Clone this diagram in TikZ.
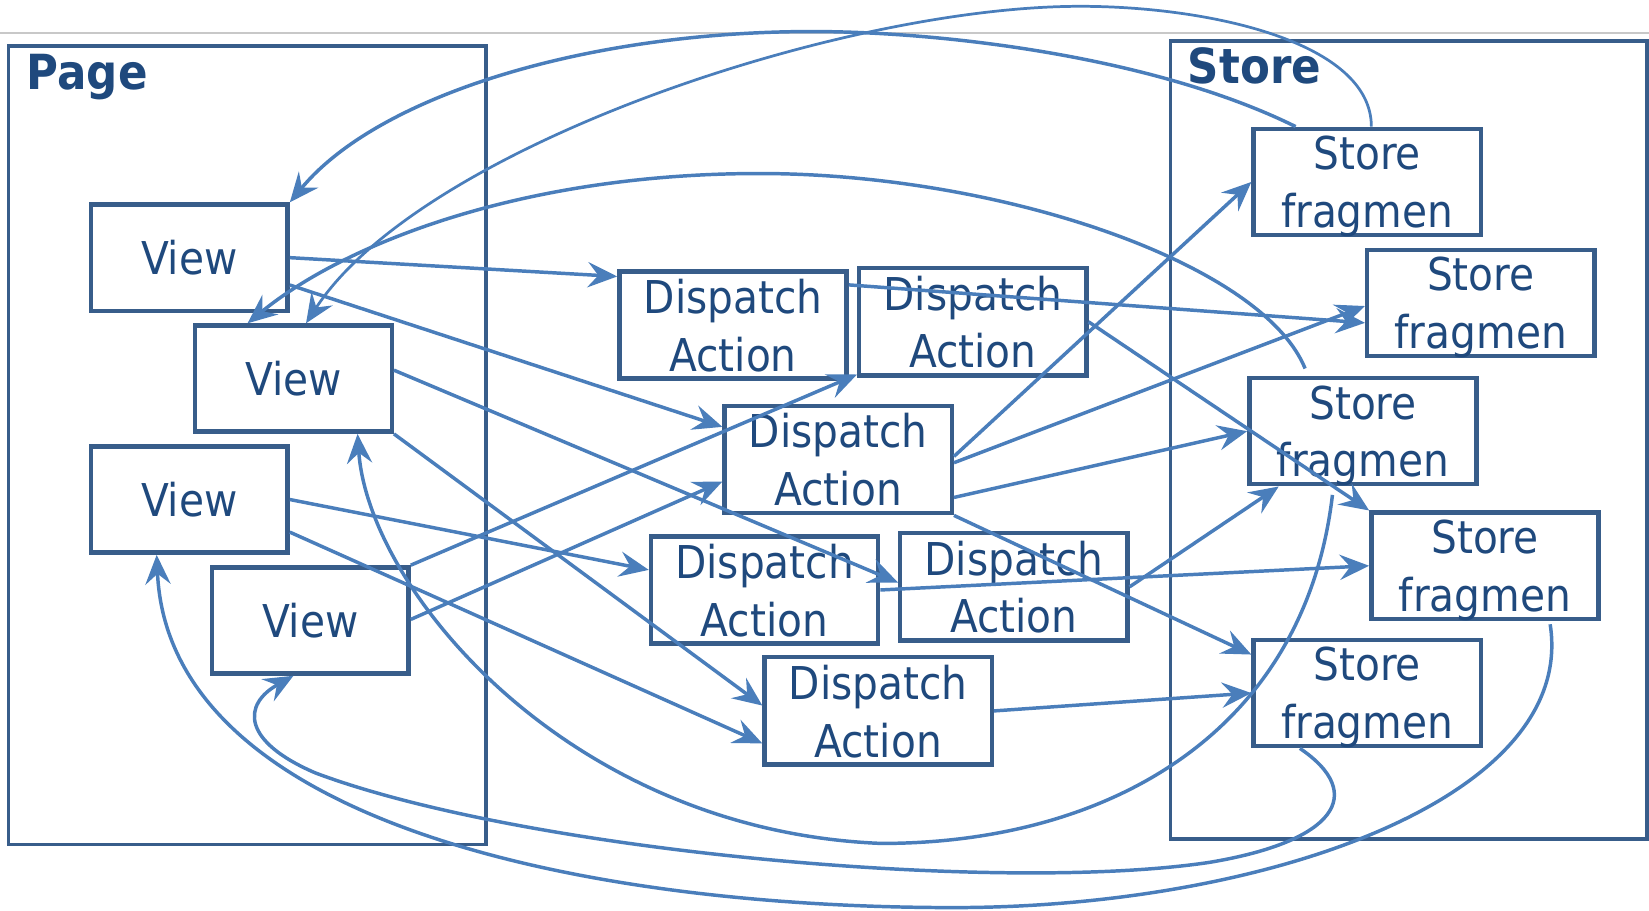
\documentclass[tikz,border=0pt]{standalone}
\usepackage{fontspec}
\setmainfont{DejaVu Sans Condensed}
\usepackage{tikz}
\usetikzlibrary{arrows.meta}
\definecolor{ppnavy}{HTML}{1F497D}
\definecolor{ppframe}{HTML}{385D8A}
\definecolor{ppline}{HTML}{4A7EBB}
\definecolor{ppgray}{HTML}{C8C8C8}

\begin{document}
\begin{tikzpicture}[
  x=0.5pt, y=-0.5pt,
  box/.style={draw=ppframe, fill=white, line width=2.1pt, inner sep=0pt, align=center,
    text=ppnavy, text depth=0pt, font=\fontsize{21.5}{27.5}\selectfont},
  view/.style={box, minimum width=93.5pt, minimum height=50.5pt},
  action/.style={box, minimum width=108pt, minimum height=51pt},
  fragment/.style={box, minimum width=108pt, minimum height=50.5pt},
  frame/.style={draw=ppframe, line width=1.8pt, inner sep=0pt},
  framelabel/.style={anchor=base west, inner sep=0pt, text=ppnavy,
    font=\fontsize{23}{27}\selectfont\bfseries},
  flow/.style={draw=ppline, line width=1.65pt, -{Stealth[length=14pt, width=12pt, inset=5pt]}}
]
\useasboundingbox (0,0) rectangle (1568,866);
\draw[ppgray, line width=1pt] (0,31) -- (1568,31);
% Page and Store frames
\node[frame, minimum width=227pt, minimum height=379.5pt] (page) at (235,423.5) {};
\node[frame, minimum width=226.5pt, minimum height=379.5pt] (store) at (1339.5,418.5) {};
\node[framelabel] (pagelabel) at ([shift={(19,43)}]page.north west) {Page};
\node[framelabel] (storelabel) at ([shift={(18,42)}]store.north west) {Store};
% Views
\node[view] (v1) at (180,245) {View};
\node[view] (v2) at (279,360) {View};
\node[view] (v3) at (180,475) {View};
\node[view] (v4) at (295,590) {View};
% Dispatch actions
\node[action] (d1) at (697,309) {Dispatch\\Action};
\node[action] (d2) at (925,306) {Dispatch\\Action};
\node[action] (d3) at (797,437) {Dispatch\\Action};
\node[action] (d4) at (727,561) {Dispatch\\Action};
\node[action] (d5) at (964,558) {Dispatch\\Action};
\node[action] (d6) at (835,676) {Dispatch\\Action};
% Store fragments
\node[fragment] (s1) at (1300,173) {Store\\fragmen};
\node[fragment] (s2) at (1408,288) {Store\\fragmen};
\node[fragment] (s3) at (1296,410) {Store\\fragmen};
\node[fragment] (s4) at (1412,538) {Store\\fragmen};
\node[fragment] (s5) at (1300,659) {Store\\fragmen};
% Straight flows
\foreach \a/\ax/\ay/\b/\bx/\by in {
  v1.east/0/0/d1.north west/0/7,
  v1.east/0/26/d3.north west/0/22,
  v2.east/0/-8/d5.north west/0/49,
  v2.south east/0/0/d6.north west/0/48,
  v3.east/0/0/d4.north west/0/34,
  v3.east/0/31/d6.north west/0/84,
  v4.north east/0/0/d2.south west/0/-3,
  v4.east/0/-1/d3.north west/0/74,
  d1.north east/0/15/s2.west/0/19,
  d2.east/0/0/s4.north west/0/0,
  d3.east/0/-3/s1.west/0/0,
  d3.east/0/3/s2.west/0/3,
  d3.east/0/36/s3.west/0/0,
  d3.south east/0/0/s5.north west/0/16,
  d4.east/0/0/s4.west/0/0,
  d5.east/0/0/s3.south west/30/0,
  d6.east/0/0/s5.west/0/0} {
  \draw[flow] ([shift={(\ax,\ay)}]\a) -- ([shift={(\bx,\by)}]\b);
}
% Curved flows back to the views
\draw[flow] ([shift={(-68,0)}]s1.north) .. controls (1100,55) and (900,30) .. (772,30)
  .. controls (560,30) and (360,90) .. (v1.north east);
\draw[flow, line width=1.3pt] ([shift={(4,0)}]s1.north) .. controls (1304,40) and (1150,6) .. (1027,6)
  .. controls (800,6) and (400,140) .. ([shift={(12,0)}]v2.north);
\draw[flow] ([shift={(-55,-7)}]s3.north) .. controls (1200,250) and (950,165) .. (722,165)
  .. controls (500,165) and (330,230) .. ([shift={(52,0)}]v2.north west);
\draw[flow] ([shift={(-29,8)}]s3.south) .. controls (1240,700) and (1050,802) .. (838,802)
  .. controls (540,790) and (350,560) .. ([shift={(61,0)}]v2.south);
\draw[flow] ([shift={(-64,0)}]s5.south) .. controls (1300,755) and (1270,800) .. (1150,820)
  .. controls (950,850) and (500,810) .. (300,735)
  .. controls (230,705) and (230,670) .. ([shift={(-16,0)}]v4.south);
\draw[flow] ([shift={(62,3)}]s4.south) .. controls (1500,760) and (1200,863) .. (907,863)
  .. controls (550,863) and (160,780) .. ([shift={(-31,0)}]v3.south);
\end{tikzpicture}
\end{document}
